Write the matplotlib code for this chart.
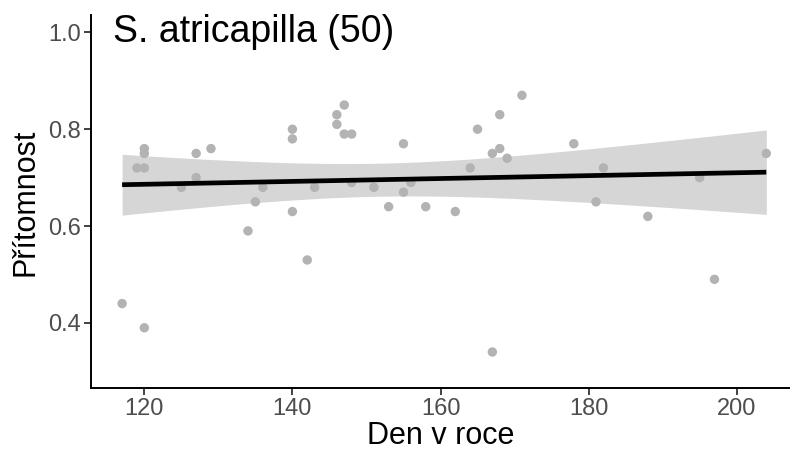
import numpy as np
import matplotlib
matplotlib.use("Agg")
import matplotlib.pyplot as plt

plt.rcParams['font.family'] = ['Liberation Sans', 'DejaVu Sans']

# Den v roce / Přítomnost
den = [117, 120, 119, 120, 120, 120, 125, 127, 127, 129,
       134, 135, 136, 140, 140, 140, 142, 143, 146, 146,
       147, 147, 148, 148, 151, 153, 155, 155, 156, 158,
       162, 164, 165, 167, 168, 168, 169, 171, 167, 178,
       181, 182, 188, 195, 197, 204]
pritomnost = [0.44, 0.39, 0.72, 0.72, 0.76, 0.75, 0.68, 0.75, 0.70, 0.76,
              0.59, 0.65, 0.68, 0.80, 0.78, 0.63, 0.53, 0.68, 0.83, 0.81,
              0.85, 0.79, 0.79, 0.69, 0.68, 0.64, 0.77, 0.67, 0.69, 0.64,
              0.63, 0.72, 0.80, 0.75, 0.83, 0.76, 0.74, 0.87, 0.34, 0.77,
              0.65, 0.72, 0.62, 0.70, 0.49, 0.75]

x_ticks = [120, 140, 160, 180, 200]
y_ticks = [0.4, 0.6, 0.8, 1.0]
titulek = "S. atricapilla (50)"

# linearni model + 95% pas spolehlivosti (jako geom_smooth(method="lm"))
x = np.array(den, dtype=float)
y = np.array(pritomnost)
n = len(x)
b, a = np.polyfit(x, y, 1)
res = y - (a + b * x)
s = np.sqrt(np.sum(res ** 2) / (n - 2))
sxx = np.sum((x - x.mean()) ** 2)
t = 2.015
xs = np.linspace(x.min(), x.max(), 80)
ys = a + b * xs
se = s * np.sqrt(1.0 / n + (xs - x.mean()) ** 2 / sxx)

fig = plt.figure(figsize=(7.9, 4.53), dpi=100)
ax = fig.add_axes([0.1152, 0.1428, 0.8848, 0.8232])

ax.scatter(den, pritomnost, s=46, color='#b3b3b3', edgecolors='none', zorder=2)
ax.fill_between(xs, ys - t * se, ys + t * se, color='#d6d6d6', linewidth=0, zorder=1)
ax.plot(xs, ys, color='black', linewidth=3.4, zorder=3, solid_capstyle='butt')

ax.set_xlim(112.8, 207.2)
ax.set_ylim(0.265, 1.035)
ax.set_xticks(x_ticks)
ax.set_yticks(y_ticks)
ax.set_yticklabels(["%.1f" % v for v in y_ticks])

for sp in ['top', 'right']:
    ax.spines[sp].set_visible(False)
for sp in ['left', 'bottom']:
    ax.spines[sp].set_linewidth(1.4)
    ax.spines[sp].set_color('black')

ax.tick_params(axis='both', length=5, width=1.3, color='#333333',
               labelcolor='#4d4d4d', labelsize=17, pad=2)

ax.set_xlabel("Den v roce", fontsize=22, labelpad=1)
ax.set_ylabel("Přítomnost", fontsize=22, labelpad=6)

ax.text(115.8, 0.981, titulek, fontsize=27, ha='left', va='baseline')

fig.savefig("out.png", dpi=100)
